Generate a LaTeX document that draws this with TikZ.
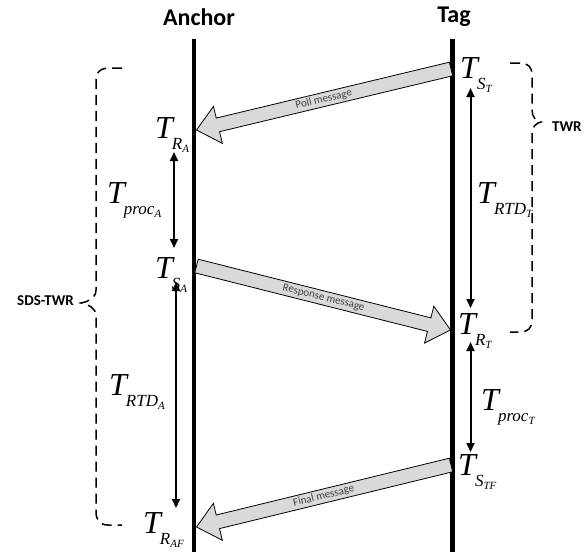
\documentclass[tikz,border=0pt]{standalone}
\usepackage{fontspec}
\setmainfont{Carlito}
\newfontfamily\tms{Liberation Serif}
\usetikzlibrary{calc,arrows.meta}
\definecolor{msgfill}{HTML}{D9D9D9}
\definecolor{msgtxt}{HTML}{404040}
\newcommand\tvar[2]{{\tms\itshape{\fontsize{32}{32}\selectfont T}\kern-1pt\raisebox{-11.5pt}{\fontsize{17}{17}\selectfont #1\raisebox{-2.5pt}{\fontsize{11}{11}\selectfont #2}}}}
\tikzset{
  life/.style={line width=4.5pt},
  head/.style={font=\fontsize{24}{24}\selectfont\bfseries, inner sep=0pt},
  tlab/.style={anchor=base west, inner sep=0pt},
  dur/.style={line width=2pt, {Triangle[width=8pt,length=9pt]}-{Triangle[width=8pt,length=9pt]}},
  brace/.style={line width=1.5pt, dash pattern=on 10pt off 6pt},
  bracelab/.style={font=\fontsize{15}{15}\selectfont\bfseries, inner sep=0pt},
  msgarrow/.style={draw=black, line width=0.8pt, fill=msgfill, line join=miter, to path={
    ($(\tikztostart)!7pt!90:(\tikztotarget)$) --
    ($(\tikztotarget)!22pt!(\tikztostart)!7pt!90:(\tikztotarget)$) --
    ($(\tikztotarget)!22pt!(\tikztostart)!19pt!90:(\tikztotarget)$) --
    (\tikztotarget) --
    ($(\tikztotarget)!22pt!(\tikztostart)!19pt!-90:(\tikztotarget)$) --
    ($(\tikztotarget)!22pt!(\tikztostart)!7pt!-90:(\tikztotarget)$) --
    ($(\tikztostart)!7pt!-90:(\tikztotarget)$) -- cycle}},
  msgtext/.style={font=\fontsize{11}{11}\selectfont, text=msgtxt, inner sep=0pt, sloped}
}
\begin{document}
\begin{tikzpicture}[x=1pt,y=-1pt]
\useasboundingbox (0,0) rectangle (586,552);
% headers
\node[head] (anchor) at (199,17) {Anchor};
\node[head] (tag) at (454,17) {Tag};
% lifelines
\coordinate (aTop) at (194,39);
\coordinate (aBot) at (194,552);
\coordinate (tTop) at (452.5,39);
\coordinate (tBot) at (452.5,552);
\draw[life] (aTop) -- (aBot);
\draw[life] (tTop) -- (tBot);
% messages
\coordinate (pollS) at (451,69);
\coordinate (pollE) at (196.5,130);
\coordinate (respS) at (196.5,266);
\coordinate (respE) at (450.5,330);
\coordinate (finS) at (451,465);
\coordinate (finE) at (196.5,527);
\path[msgarrow] (pollS) to (pollE);
\path[msgarrow] (respS) to (respE);
\path[msgarrow] (finS) to (finE);
\path (pollS) -- node[msgtext] {Poll message} (pollE);
\path (respS) -- node[msgtext] {Response message} (respE);
\path (finS) -- node[msgtext] {Final message} (finE);
% time labels
\node[tlab] (tra) at (155,138) {\tvar{R}{A}};
\node[tlab] (tpa) at (107,203) {\tvar{proc}{A}};
\node[tlab] (tsa) at (155,278) {\tvar{S}{A}};
\node[tlab] (trtda) at (109,395) {\tvar{RTD}{A}};
\node[tlab] (traf) at (143,533) {\tvar{R}{AF}};
\node[tlab] (tst) at (460,78) {\tvar{S}{T}};
\node[tlab] (trtdt) at (477,203) {\tvar{RTD}{T}};
\node[tlab] (trt) at (458,334) {\tvar{R}{T}};
\node[tlab] (tpt) at (481,410) {\tvar{proc}{T}};
\node[tlab] (tstf) at (458,475) {\tvar{S}{TF}};
% durations
\coordinate (d1a) at (174,152); \coordinate (d1b) at (174,248);
\coordinate (d2a) at (176,282); \coordinate (d2b) at (176,508);
\coordinate (d3a) at (470.5,88); \coordinate (d3b) at (470.5,308);
\coordinate (d4a) at (470.5,342); \coordinate (d4b) at (470.5,452);
\draw[dur] (d1a) -- (d1b);
\draw[dur] (d2a) -- (d2b);
\draw[dur] (d3a) -- (d3b);
\draw[dur] (d4a) -- (d4b);
% braces
\coordinate (lbTop) at (122,68);
\coordinate (lbTip) at (81,303);
\coordinate (lbBot) at (122,525);
\draw[brace] (lbTop) -- (110,68) .. controls (100,68) and (96,72) .. (96,82)
  -- (96,290) .. controls (96,298) and (88,302) .. (lbTip)
  .. controls (88,304) and (96,308) .. (96,316)
  -- (96,512) .. controls (96,520) and (100,525) .. (108,525) -- (lbBot);
\node[bracelab, anchor=east] (sds) at (74,301) {SDS-TWR};
\coordinate (rbTop) at (510,63);
\coordinate (rbTip) at (541,122);
\coordinate (rbBot) at (510,332);
\draw[brace] (rbTop) -- (520,63) .. controls (528,63) and (532,67) .. (532,75)
  -- (532,110) .. controls (532,117) and (536,121) .. (rbTip)
  .. controls (536,123) and (532,127) .. (532,134)
  -- (532,320) .. controls (532,328) and (528,332) .. (520,332) -- (rbBot);
\node[bracelab, anchor=west] (twr) at (552,127) {TWR};
\end{tikzpicture}
\end{document}
